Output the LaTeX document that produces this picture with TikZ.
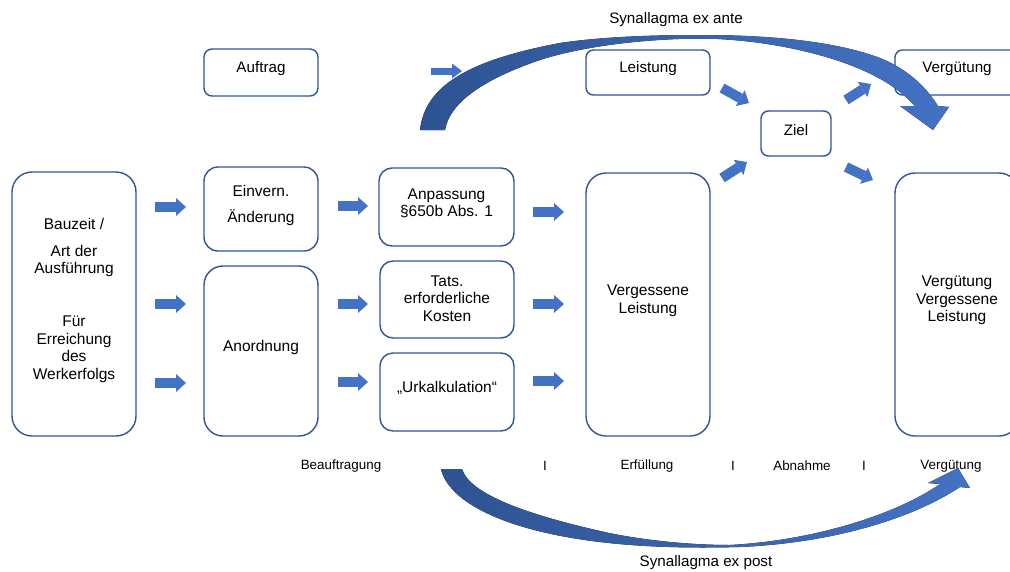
\documentclass[tikz,border=0pt]{standalone}
\usepackage{fontspec}
\setmainfont{Liberation Sans}
\usetikzlibrary{arrows.meta}
\definecolor{boxline}{HTML}{2F5597}
\definecolor{arrowblue}{HTML}{4472C4}
\definecolor{arcdark}{HTML}{2E5391}
\definecolor{arclight}{HTML}{4472C4}
\begin{document}
\begin{tikzpicture}[x=1pt,y=-1pt,
  rbox/.style={draw=boxline, line width=1.4pt, fill=white, inner sep=0pt},
  bigtxt/.style={align=center, inner sep=0pt, font=\fontsize{15.5pt}{17.5pt}\selectfont},
  midtxt/.style={align=center, inner sep=0pt, font=\fontsize{15.2pt}{17.5pt}\selectfont},
  smalltxt/.style={align=center, inner sep=0pt, font=\fontsize{13.4pt}{16pt}\selectfont},
  barrow/.style={draw=arrowblue, line width=10pt, -{Triangle[length=10pt,width=18pt,line width=0pt]}},
  barrowsm/.style={draw=arrowblue, line width=7pt, -{Triangle[length=10pt,width=15pt,line width=0pt]}},
  arcfill/.style={left color=arcdark, right color=arclight}
]
\useasboundingbox (0,0) rectangle (1010,571);

% boxes
\node[rbox, minimum width=124pt, minimum height=264pt, rounded corners=20pt] (bz) at (74,304) {};
\node[bigtxt] (bzt) at ([yshift=4pt]bz.center) {Bauzeit /\\[9.5pt]Art der\\Ausführung\\[35.5pt]Für\\Erreichung\\des\\Werkerfolgs};

\node[rbox, minimum width=114pt, minimum height=47pt, rounded corners=8pt] (auf) at (261,72.5) {};
\node[midtxt] (auft) at ([yshift=4pt]auf.center) {Auftrag};

\node[rbox, minimum width=114pt, minimum height=84pt, rounded corners=14pt] (ein) at (261,209) {};
\node[bigtxt] (eint) at ([yshift=4pt]ein.center) {Einvern.\\[8.5pt]Änderung};

\node[rbox, minimum width=114pt, minimum height=170pt, rounded corners=19pt] (ano) at (261,351) {};
\node[bigtxt] (anot) at ([yshift=4pt]ano.center) {Anordnung};

\node[rbox, minimum width=135pt, minimum height=78pt, rounded corners=13pt] (anp) at (446.5,207) {};
\node[bigtxt] (anpt) at ([yshift=3.5pt]anp.center) {Anpassung\\§650b Abs. 1};

\node[rbox, minimum width=134pt, minimum height=77pt, rounded corners=13pt] (tat) at (447,299.5) {};
\node[bigtxt] (tatt) at ([yshift=1pt]tat.center) {Tats.\\erforderliche\\Kosten};

\node[rbox, minimum width=134pt, minimum height=78pt, rounded corners=13pt] (urk) at (447,392) {};
\node[bigtxt] (urkt) at ([yshift=4pt]urk.center) {„Urkalkulation“};

\node[rbox, minimum width=124pt, minimum height=263pt, rounded corners=20pt] (ver) at (648,304.5) {};
\node[bigtxt] (vert) at ([yshift=3.5pt]ver.center) {Vergessene\\Leistung};

\node[rbox, minimum width=124pt, minimum height=45pt, rounded corners=7.5pt] (lei) at (648,72.5) {};
\node[midtxt] (leit) at ([yshift=4pt]lei.center) {Leistung};

\node[rbox, minimum width=70pt, minimum height=45pt, rounded corners=7.5pt] (ziel) at (796,133.5) {};
\node[midtxt] (zielt) at ([yshift=3.5pt]ziel.center) {Ziel};

\node[rbox, minimum width=124pt, minimum height=45pt, rounded corners=7.5pt] (vgt) at (957,72.5) {};
\node[midtxt] (vgtt) at ([yshift=4pt]vgt.center) {Vergütung};

\node[rbox, minimum width=124pt, minimum height=263pt, rounded corners=20pt] (vgb) at (957,304.5) {};
\node[bigtxt] (vgbt) at ([yshift=4pt]vgb.center) {Vergütung\\Vergessene\\Leistung};

% block arrows
\coordinate (a1s) at (155,207); \coordinate (a1e) at (186,207);
\coordinate (a2s) at (155,304); \coordinate (a2e) at (186,304);
\coordinate (a3s) at (155,383); \coordinate (a3e) at (186,383);
\coordinate (b1s) at (338,206); \coordinate (b1e) at (368,206);
\coordinate (b2s) at (338,304); \coordinate (b2e) at (368,304);
\coordinate (b3s) at (338,382); \coordinate (b3e) at (368,382);
\coordinate (c1s) at (533,212); \coordinate (c1e) at (564,212);
\coordinate (c2s) at (533,304); \coordinate (c2e) at (564,304);
\coordinate (c3s) at (533,381); \coordinate (c3e) at (564,381);
\coordinate (t1s) at (431,71);  \coordinate (t1e) at (462,71);
\coordinate (d1s) at (722,88);  \coordinate (d1e) at (749,103);
\coordinate (d2s) at (846,100); \coordinate (d2e) at (871,84);
\coordinate (d3s) at (722,178); \coordinate (d3e) at (747,162);
\coordinate (d4s) at (846,167); \coordinate (d4e) at (873,180);
\foreach \s/\e in {a1s/a1e,a2s/a2e,a3s/a3e,b1s/b1e,b2s/b2e,b3s/b3e,c1s/c1e,c2s/c2e,c3s/c3e,d1s/d1e,d2s/d2e,d3s/d3e,d4s/d4e}
  \draw[barrow] (\s) -- (\e);
\draw[barrowsm] (t1s) -- (t1e);

% labels
\node[midtxt] (sea) at (676,20) {Synallagma ex ante};
\node[midtxt] (sep) at (706,563) {Synallagma ex post};
\node[smalltxt] (lb1) at (341,466) {Beauftragung};
\node[smalltxt] (lb2) at (545,466) {I};
\node[smalltxt] (lb3) at (647,466) {Erfüllung};
\node[smalltxt] (lb4) at (733,466) {I};
\node[smalltxt] (lb5) at (802,466) {Abnahme};
\node[smalltxt] (lb6) at (864,466) {I};
\node[smalltxt] (lb7) at (951,466) {Vergütung};

% Synallagma ex ante (curved arrow)
\fill[arcfill] (420,130) .. controls (425,85) and (470,60) .. (560,43)
  .. controls (600,37) and (650,35) .. (700,35)
  .. controls (780,35) and (840,43) .. (880,58)
  .. controls (905,68) and (925,85) .. (938,106)
  -- (949,107) -- (933,130) -- (900,106) -- (915,106)
  .. controls (900,90) and (885,80) .. (860,69)
  .. controls (820,52) and (760,39) .. (700,38.5)
  .. controls (640,39) and (580,47) .. (540,60)
  .. controls (490,77) and (450,100) .. (445,130) -- cycle;

% Synallagma ex post (curved arrow)
\fill[arcfill] (441,469) .. controls (448,500) and (500,530) .. (600,542)
  .. controls (650,548) and (700,548) .. (740,547)
  .. controls (830,543) and (910,520) .. (960,487)
  -- (970,488) -- (958,468) -- (928,483) -- (940,484)
  .. controls (900,512) and (820,540) .. (730,545)
  .. controls (680,545) and (630,538) .. (600,531)
  .. controls (530,515) and (470,495) .. (462,469) -- cycle;
\end{tikzpicture}
\end{document}
